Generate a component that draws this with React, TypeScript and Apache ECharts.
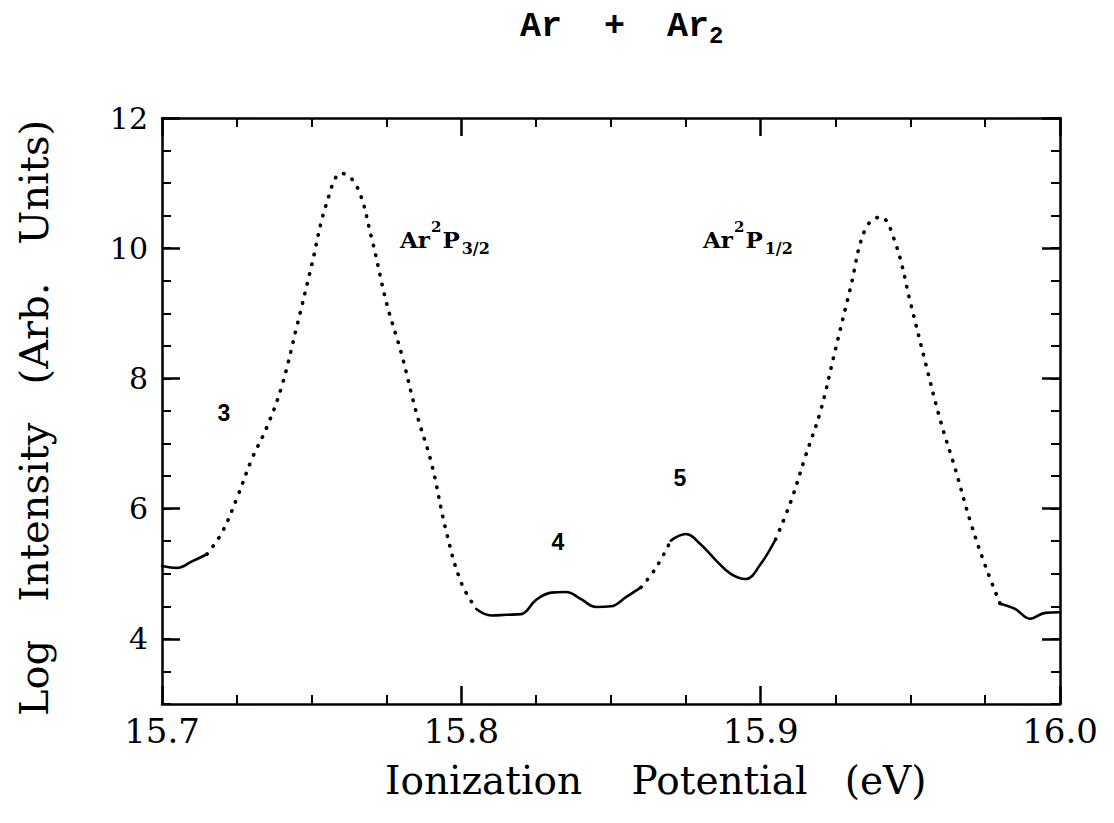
import React, { useEffect, useRef } from "react";
import * as echarts from "echarts";

const energies = [
  15.700, 15.705, 15.710, 15.715, 15.720, 15.725, 15.730, 15.735, 15.740, 15.745,
  15.750, 15.755, 15.760, 15.765, 15.770, 15.775, 15.780, 15.785, 15.790, 15.795,
  15.800, 15.805, 15.810, 15.815, 15.820, 15.825, 15.830, 15.835, 15.840, 15.845,
  15.850, 15.855, 15.860, 15.865, 15.870, 15.875, 15.880, 15.885, 15.890, 15.895,
  15.900, 15.905, 15.910, 15.915, 15.920, 15.925, 15.930, 15.935, 15.940, 15.945,
  15.950, 15.955, 15.960, 15.965, 15.970, 15.975, 15.980, 15.985, 15.990, 15.995,
  16.000,
];

// Log intensity (arb. units)
const logIntensity = [
  5.12, 5.09, 5.19, 5.30, 5.63, 6.16, 6.76, 7.25, 7.88, 8.79,
  9.74, 10.69, 11.15, 10.96, 10.16, 9.16, 8.38, 7.47, 6.70, 5.64,
  4.86, 4.46, 4.36, 4.37, 4.38, 4.60, 4.71, 4.72, 4.61, 4.49,
  4.50, 4.64, 4.79, 5.09, 5.51, 5.61, 5.45, 5.21, 5.00, 4.92,
  5.15, 5.53, 6.10, 6.81, 7.50, 8.45, 9.39, 10.30, 10.48, 10.08,
  9.17, 8.25, 7.36, 6.61, 5.81, 5.13, 4.54, 4.46, 4.31, 4.40,
  4.41,
];

const yLabelValues = [4, 6, 8, 10, 12];

// drawing style of the trace: which index ranges look dotted (steep) or solid
const segments = [
  { from: 0, to: 3, dotted: false },
  { from: 3, to: 21, dotted: true },
  { from: 21, to: 32, dotted: false },
  { from: 32, to: 34, dotted: true },
  { from: 34, to: 41, dotted: false },
  { from: 41, to: 56, dotted: true },
  { from: 56, to: 60, dotted: false },
];

const annotations = [
  { text: "3", x: 224, y: 413 },
  { text: "4", x: 558, y: 542 },
  { text: "5", x: 680, y: 478 },
];

const stateLabels = [
  { base1: "Ar", sup: "2", base2: "P", sub: "3/2", x: 400, y: 219 },
  { base1: "Ar", sup: "2", base2: "P", sub: "1/2", x: 703, y: 219 },
];

const BLACK = "#000";

export default function App() {
  const ref = useRef<HTMLDivElement>(null);

  useEffect(() => {
    if (!ref.current) return;
    const chart = echarts.init(ref.current, undefined, { renderer: "svg" });

    const xBase: any = {
      type: "value",
      min: 15.7,
      max: 16.0,
      interval: 0.1,
      axisLine: { show: true, onZero: false, lineStyle: { color: BLACK, width: 2.5 } },
      axisTick: { show: true, inside: true, length: 18, lineStyle: { color: BLACK, width: 2.5 } },
      minorTick: { show: true, splitNumber: 4, length: 9, lineStyle: { color: BLACK, width: 2 } },
      splitLine: { show: false },
      minorSplitLine: { show: false },
    };

    const yMajor = (position: string, labels: boolean): any => ({
      type: "value",
      position,
      min: 3,
      max: 12,
      interval: 1,
      axisLine: { show: true, onZero: false, lineStyle: { color: BLACK, width: 2.5 } },
      axisTick: {
        show: true,
        inside: true,
        length: 18,
        customValues: yLabelValues,
        lineStyle: { color: BLACK, width: 2.5 },
      },
      axisLabel: labels
        ? {
            show: true,
            customValues: yLabelValues,
            formatter: (v: number) => (v % 2 === 0 ? String(v) : ""),
            fontFamily: "DejaVu Serif",
            fontSize: 30,
            color: BLACK,
            margin: 14,
          }
        : { show: false },
      splitLine: { show: false },
    });

    const yMinor = (position: string): any => ({
      type: "value",
      position,
      min: 3,
      max: 12,
      interval: 0.5,
      axisLine: { show: false },
      axisTick: { show: true, inside: true, length: 9, lineStyle: { color: BLACK, width: 2 } },
      axisLabel: { show: false },
      splitLine: { show: false },
    });

    const series = segments.map((s) => ({
      type: "line",
      xAxisIndex: 0,
      yAxisIndex: 0,
      silent: true,
      symbol: "none",
      smooth: 0.4,
      data: energies.slice(s.from, s.to + 1).map((e, i) => [e, logIntensity[s.from + i]]),
      lineStyle: s.dotted
        ? { color: BLACK, width: 3.6, type: [0.5, 9.5], cap: "round" }
        : { color: BLACK, width: 2.6, cap: "round", join: "round" },
    }));

    const stateGraphics = stateLabels.map((l) => ({
      type: "text",
      x: l.x,
      y: l.y,
      silent: true,
      style: {
        text: `{b|${l.base1}}{p|${l.sup}}{b|${l.base2}}{s|${l.sub}}`,
        verticalAlign: "top",
        align: "left",
        fill: BLACK,
        rich: {
          b: { fontFamily: "DejaVu Serif", fontWeight: "bold", fontSize: 23, lineHeight: 40, verticalAlign: "middle", fill: BLACK },
          p: { fontFamily: "DejaVu Serif", fontWeight: "bold", fontSize: 15, lineHeight: 15, padding: [0, 1, 0, 1], verticalAlign: "top", fill: BLACK },
          s: { fontFamily: "DejaVu Serif", fontWeight: "bold", fontSize: 16, lineHeight: 16, padding: [0, 0, 3, 2], verticalAlign: "bottom", fill: BLACK },
        },
      },
    }));

    const numGraphics = annotations.map((a) => ({
      type: "text",
      x: a.x,
      y: a.y,
      silent: true,
      style: {
        text: a.text,
        fontFamily: "Liberation Sans",
        fontWeight: "bold",
        fontSize: 23,
        fill: BLACK,
        align: "center",
        verticalAlign: "middle",
      },
    }));

    chart.setOption({
      animation: false,
      backgroundColor: "#fff",
      grid: { left: 162, right: 54, top: 118, bottom: 119, containLabel: false },
      xAxis: [
        {
          ...xBase,
          position: "bottom",
          axisLabel: {
            show: true,
            formatter: (v: number) => v.toFixed(1),
            fontFamily: "DejaVu Serif",
            fontSize: 34,
            color: BLACK,
            margin: 10,
          },
        },
        { ...xBase, position: "top", axisLabel: { show: false } },
      ],
      yAxis: [yMajor("left", true), yMinor("left"), yMajor("right", false), yMinor("right")],
      series,
      graphic: [
        {
          type: "text",
          x: 520,
          y: 27,
          silent: true,
          style: {
            text: "{m|Ar  +  Ar}{s|2}",
            verticalAlign: "middle",
            align: "left",
            rich: {
              m: { fontFamily: "Liberation Mono", fontWeight: "bold", fontSize: 35, lineHeight: 42, verticalAlign: "middle", fill: BLACK },
              s: { fontFamily: "Liberation Mono", fontWeight: "bold", fontSize: 24, lineHeight: 24, verticalAlign: "bottom", fill: BLACK },
            },
          },
        },
        {
          type: "text",
          x: 385,
          y: 780,
          silent: true,
          style: {
            text: "Ionization    Potential   (eV)",
            fontFamily: "DejaVu Serif",
            fontSize: 39,
            fill: BLACK,
            align: "left",
            verticalAlign: "middle",
          },
        },
        {
          type: "text",
          x: 34,
          y: 418,
          rotation: Math.PI / 2,
          silent: true,
          style: {
            text: "Log   Intensity   (Arb.   Units)",
            fontFamily: "DejaVu Serif",
            fontSize: 40,
            fill: BLACK,
            align: "center",
            verticalAlign: "middle",
          },
        },
        ...stateGraphics,
        ...numGraphics,
      ],
    });

    return () => chart.dispose();
  }, []);

  return (
    <div
      ref={ref}
      style={{ position: "fixed", left: 0, top: 0, width: 1114, height: 823, background: "#fff" }}
    />
  );
}
